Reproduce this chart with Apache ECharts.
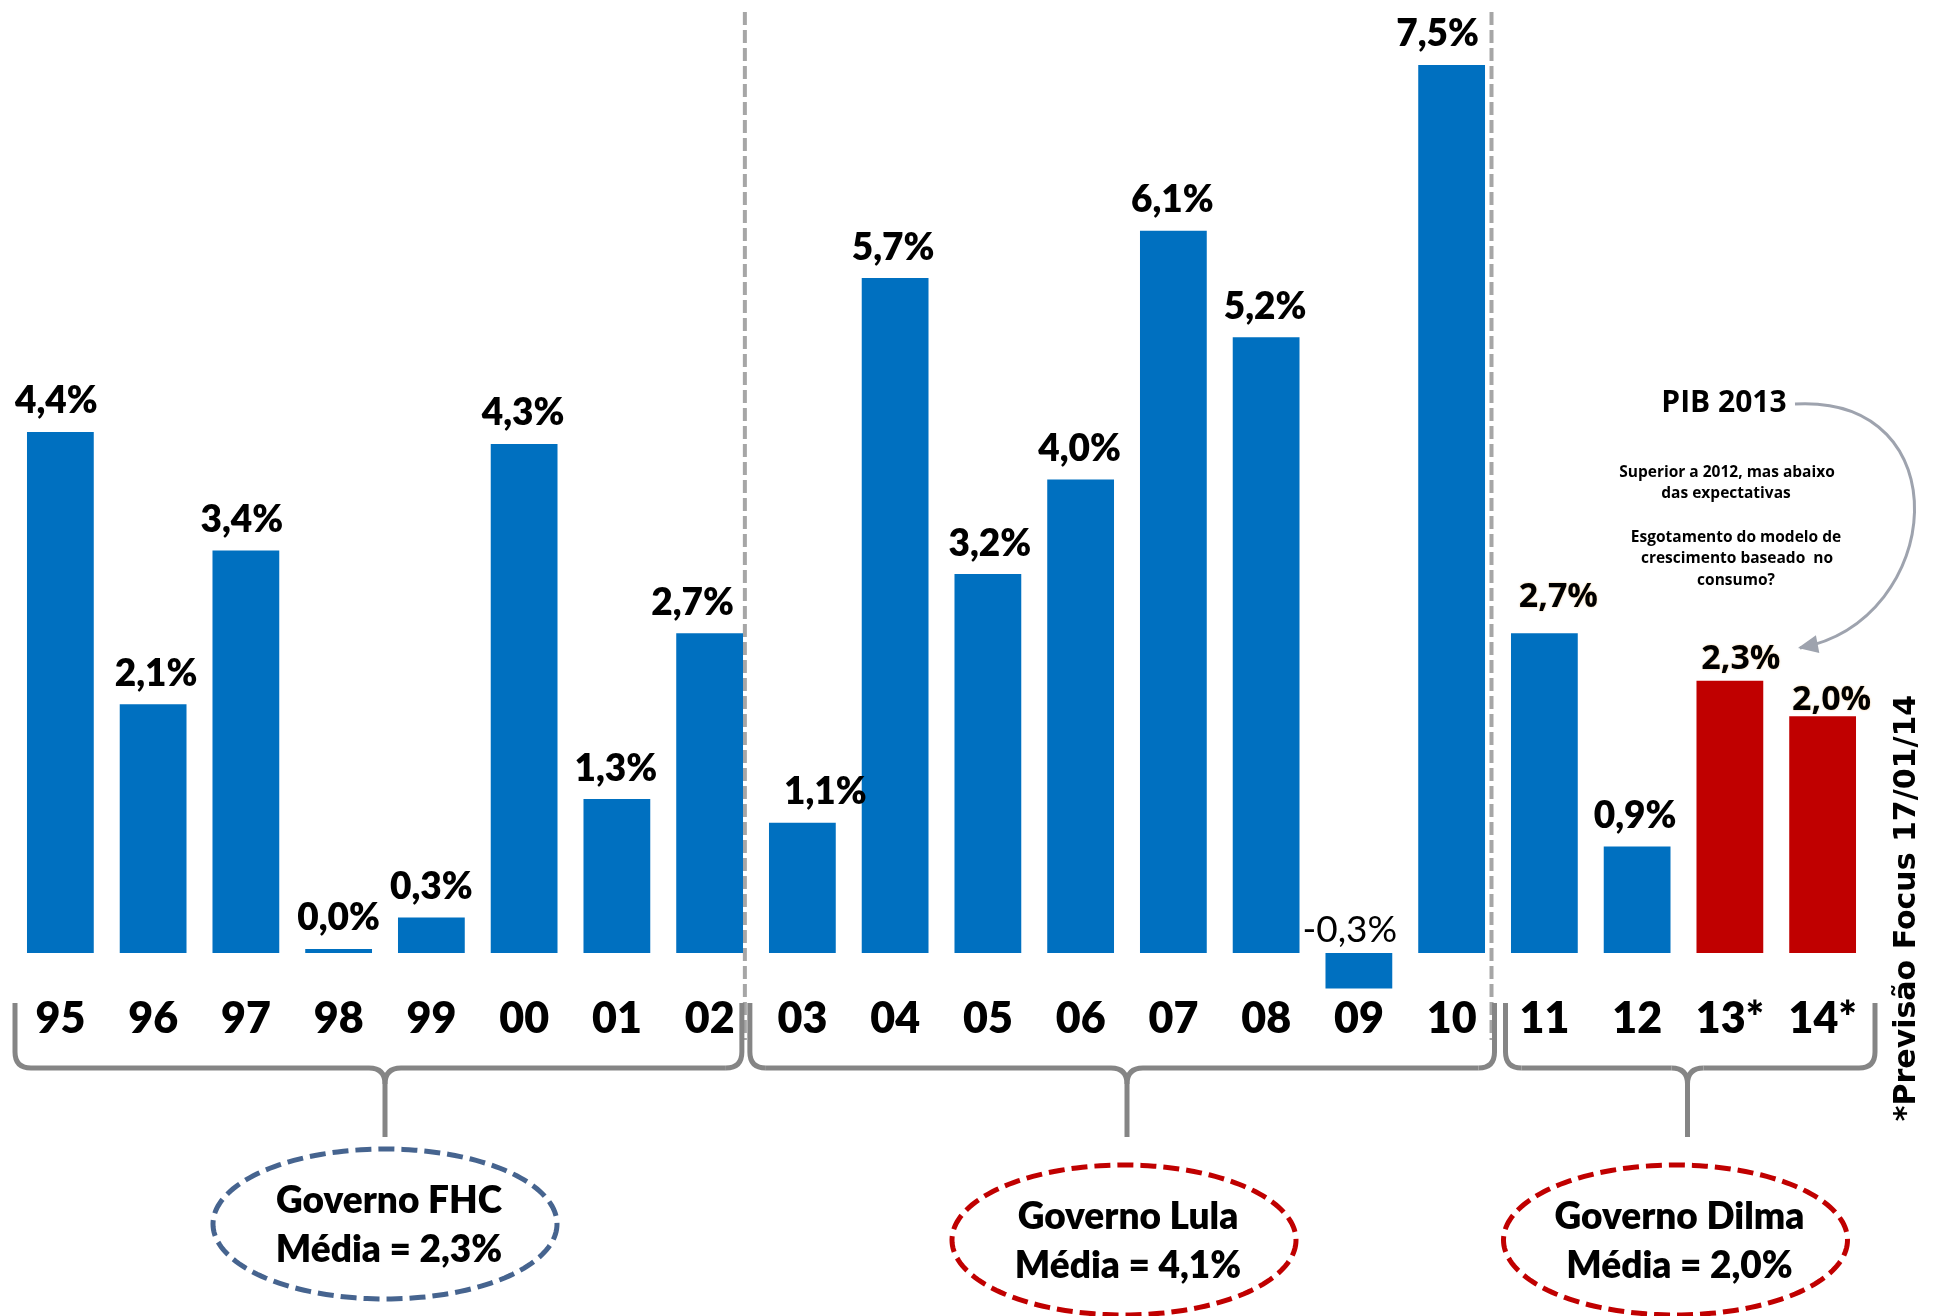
<!DOCTYPE html>
<html><head><meta charset="utf-8">
<script src="https://cdn.jsdelivr.net/npm/echarts/dist/echarts.min.js"></script>
<style>html,body{margin:0;padding:0;background:#fff}#c{width:1935px;height:1316px}</style>
</head><body><div id="c"></div>
<script>
// ---- data ----
const years = ['95','96','97','98','99','00','01','02','03','04','05','06','07','08','09','10','11','12','13*','14*'];
const growth = [4.4,2.1,3.4,0.0,0.3,4.3,1.3,2.7,1.1,5.7,3.2,4.0,6.1,5.2,-0.3,7.5,2.7,0.9,2.3,2.0];
const govNames = ['Governo FHC','Governo Lula','Governo Dilma'];
const govMeans = ['Média = 2,3%','Média = 4,1%','Média = 2,0%'];
const govFirst = [0,8,16];
const govLast = [7,15,19];
const noteTitle = 'PIB 2013';
const noteLines = ['Superior a 2012, mas abaixo','das expectativas','','Esgotamento do modelo de','crescimento baseado  no','consumo?'];
const sideNote = '*Previsão Focus 17/01/14';

// ---- styles ----
const BLUE = '#0070C0', RED = '#C00000';
const W = 800;
const labelNudgeX = [-4,3,-4,0,0,-1,-1,-17,23,-2,2,-1,-1,-1,-9,-14,14,-2,11,9];
const labelNudgeY = [0,0,0,0,0,0,0,0,0,0,0,0,0,0,8,0,-7,0,8,13];
const altFontIdx = [16, 18, 19];

const fmt = v => v.toFixed(1).replace('.', ',') + '%';

const items = growth.map((v, i) => {
  const forecast = years[i].indexOf('*') >= 0;
  const it = {
    value: v,
    itemStyle: { color: forecast ? RED : BLUE },
    label: { offset: [labelNudgeX[i], labelNudgeY[i]] }
  };
  if (v < 0) { it.label.fontWeight = 'normal'; }
  if (altFontIdx.indexOf(i) >= 0) {
    Object.assign(it.label, { fontFamily: 'Open Sans', fontWeight: 'bold', fontSize: 34,
      textShadowColor: 'rgba(230,150,40,0.55)', textShadowBlur: 2 });
  }
  return it;
});

const chart = echarts.init(document.getElementById('c'), null, { renderer: 'canvas' });
chart.setOption({
  animation: false,
  backgroundColor: '#fff',
  grid: { left: 14, right: 66, top: 5.8, bottom: 363, containLabel: false, outerBoundsMode: 'none' },
  xAxis: {
    type: 'category', data: years,
    axisLine: { show: false }, axisTick: { show: false }, splitLine: { show: false },
    axisLabel: { interval: 0, margin: 45, fontFamily: 'Lato', fontWeight: W, fontSize: 43, color: '#000' }
  },
  yAxis: { type: 'value', min: 0, max: 8, show: false, splitLine: { show: false } },
  series: [{
    type: 'bar', barWidth: '72%', barMinHeight: 4, clip: false, data: items,
    label: {
      show: true, position: 'top', distance: 12,
      formatter: p => fmt(p.value),
      fontFamily: 'Lato', fontWeight: W, fontSize: 37, color: '#000'
    }
  }]
});

// ---- decorations positioned from the axes ----
const px = i => chart.convertToPixel({ xAxisIndex: 0 }, years[i]);
const band = px(1) - px(0);
const sep1 = px(7) + 0.38 * band;
const sep2 = px(15) + 0.43 * band;
const g = [];
const GRAY = '#a6a6a6', BRACE = '#858585';

[sep1, sep2].forEach(x => g.push({
  type: 'line', shape: { x1: x, y1: 12, x2: x, y2: 1040 },
  style: { stroke: GRAY, lineWidth: 4, lineDash: [13, 5] }
}));

function brace(xL, xR, xT) {
  const yTop = 1003, yH = 1068, yB = 1137, r = 16;
  const st = { stroke: BRACE, lineWidth: 5, fill: null };
  g.push({ type: 'line', shape: { x1: xL, y1: yTop, x2: xL, y2: yH - r }, style: st });
  g.push({ type: 'bezierCurve', shape: { x1: xL, y1: yH - r, cpx1: xL, cpy1: yH, x2: xL + r, y2: yH }, style: st });
  g.push({ type: 'line', shape: { x1: xL + r, y1: yH, x2: xT - r, y2: yH }, style: st });
  g.push({ type: 'bezierCurve', shape: { x1: xT - r, y1: yH, cpx1: xT, cpy1: yH, x2: xT, y2: yH + r }, style: st });
  g.push({ type: 'bezierCurve', shape: { x1: xT + r, y1: yH, cpx1: xT, cpy1: yH, x2: xT, y2: yH + r }, style: st });
  g.push({ type: 'line', shape: { x1: xT + r, y1: yH, x2: xR - r, y2: yH }, style: st });
  g.push({ type: 'bezierCurve', shape: { x1: xR - r, y1: yH, cpx1: xR, cpy1: yH, x2: xR, y2: yH - r }, style: st });
  g.push({ type: 'line', shape: { x1: xR, y1: yH - r, x2: xR, y2: yTop }, style: st });
  g.push({ type: 'line', shape: { x1: xT, y1: yH + r, x2: xT, y2: yB }, style: st });
}
function ellipse(cx, cy, rx, ry, color) {
  const pts = [];
  for (let k = 0; k < 180; k++) { const a = k / 180 * Math.PI * 2; pts.push([cx + rx * Math.cos(a), cy + ry * Math.sin(a)]); }
  g.push({ type: 'polygon', shape: { points: pts }, style: { fill: 'none', stroke: color, lineWidth: 5, lineDash: [16, 7] } });
}
function txt(x, y, text, font, color) {
  g.push({ type: 'text', x: x, y: y, style: { text: text, x: 0, y: 0, font: font, fill: color || '#000',
    textAlign: 'center', align: 'center', textVerticalAlign: 'middle', verticalAlign: 'middle' } });
}

const mids = govFirst.map((f, k) => (px(f) + px(govLast[k])) / 2);
const braceL = [px(0) - band / 2 + 1, sep1 + 5, sep2 + 14];
const braceR = [sep1 - 3, sep2 + 3, px(19) + band / 2 + 6];
const tipShift = [0, 0, 4];
const ellShift = [0, -3, -8];
const ellCy = [1224, 1240, 1240];
const ellColor = ['#46648f', RED, RED];
for (let k = 0; k < 3; k++) {
  brace(braceL[k], braceR[k], mids[k] + tipShift[k]);
  const cx = mids[k] + ellShift[k];
  ellipse(cx, ellCy[k], 172, 75, ellColor[k]);
  txt(cx + 4, ellCy[k] - 23, govNames[k], W + ' 37px Lato');
  txt(cx + 4, ellCy[k] + 26, govMeans[k], W + ' 37px Lato');
}

// annotation
txt(1724, 403, noteTitle, 'bold 30px "Open Sans"');
const lineY = [473, 494, 516, 538, 559, 581];
const lineX = [1727, 1726, 1736, 1736, 1737, 1736];
noteLines.forEach((t, k) => { if (t) txt(lineX[k], lineY[k], t, 'bold 15.5px "Open Sans"'); });
const P0 = [1795, 404], P1 = [1962, 395], P2 = [1945, 620], P3 = [1800, 648];
g.push({ type: 'bezierCurve', shape: { x1: P0[0], y1: P0[1], cpx1: P1[0], cpy1: P1[1], cpx2: P2[0], cpy2: P2[1], x2: P3[0], y2: P3[1] },
  style: { stroke: '#9ea3ae', lineWidth: 3, fill: null } });
(function () {
  let dx = P3[0] - P2[0], dy = P3[1] - P2[1]; const L = Math.hypot(dx, dy); dx /= L; dy /= L;
  const tip = [P3[0] - 2, P3[1]]; const len = 20, hw = 9;
  const bc = [tip[0] - dx * len, tip[1] - dy * len];
  g.push({ type: 'polygon', shape: { points: [tip, [bc[0] - dy * hw, bc[1] + dx * hw], [bc[0] + dy * hw, bc[1] - dx * hw]] },
    style: { fill: '#9ea3ae' } });
})();

// rotated side note
g.push({ type: 'text', x: 1907, y: 908, rotation: Math.PI / 2,
  style: { text: sideNote, x: 0, y: 0, font: 'bold 30px "DejaVu Sans"', fill: '#000',
    textAlign: 'center', align: 'center', textVerticalAlign: 'middle', verticalAlign: 'middle' } });

chart.setOption({ graphic: { elements: g } });
</script></body></html>
